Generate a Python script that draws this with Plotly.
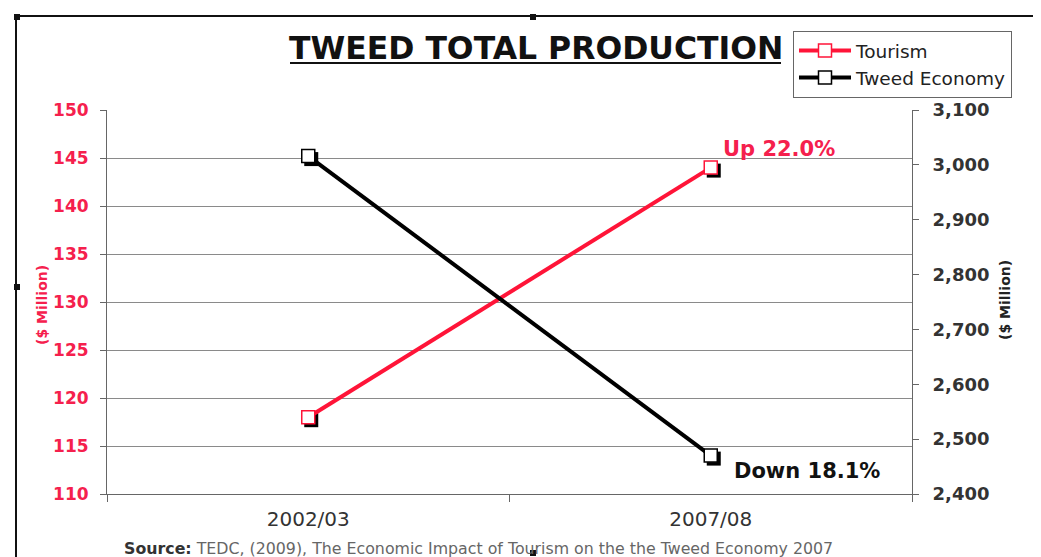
import plotly.graph_objects as go

categories = ["2002/03", "2007/08"]
tourism = [118, 144]
tweed_economy = [3016, 2470]
left_ticks = [110, 115, 120, 125, 130, 135, 140, 145, 150]
right_ticks = [2400, 2500, 2600, 2700, 2800, 2900, 3000, 3100]

RED = "#FF1438"
RED_TXT = "#F5204D"
FONT = "DejaVu Sans"

# page geometry (the page body has an 8px margin)
OFF = 8
PX0, PX1, PY0, PY1 = 107, 912, 110, 494
W, H = 1041 - OFF, 557 - OFF
PW, PH = PX1 - PX0, PY1 - PY0
L, T = PX0 - OFF, PY0 - OFF
R, B = W - (PX1 - OFF), H - (PY1 - OFF)

LR = [110, 150]
RR = [2400, 3100]
XR = [-0.5, 1.5]
SH = 3  # shadow offset in px
dx = SH * (XR[1] - XR[0]) / PW
dyl = SH * (LR[1] - LR[0]) / PH
dyr = SH * (RR[1] - RR[0]) / PH


def px(x):
    return (x - PX0) / PW


def py(y):
    return (PY1 - y) / PH


fig = go.Figure()
# marker shadows (drawn underneath, on slightly shifted hidden axes)
fig.add_trace(go.Scatter(
    x=categories, y=tourism, mode="markers", showlegend=False, hoverinfo="skip",
    marker=dict(symbol="square", size=14, color="black", line=dict(width=0)),
    xaxis="x", yaxis="y"))
fig.add_trace(go.Scatter(
    x=categories, y=tweed_economy, mode="markers", showlegend=False, hoverinfo="skip",
    marker=dict(symbol="square", size=14, color="black", line=dict(width=0)),
    xaxis="x", yaxis="y2"))
# visible series
fig.add_trace(go.Scatter(
    x=categories, y=tweed_economy, name="Tweed Economy", mode="lines+markers",
    line=dict(color="black", width=4),
    marker=dict(symbol="square", size=13, color="white", line=dict(color="black", width=1.5)),
    xaxis="x2", yaxis="y4"))
fig.add_trace(go.Scatter(
    x=categories, y=tourism, name="Tourism", mode="lines+markers",
    line=dict(color=RED, width=4),
    marker=dict(symbol="square", size=13, color="white", line=dict(color=RED, width=1.5)),
    xaxis="x2", yaxis="y3"))

up = (tourism[1] / tourism[0] - 1) * 100
down = (1 - tweed_economy[1] / tweed_economy[0]) * 100

annotations = [
    dict(text=f"Up {up:.1f}%", x=categories[1], y=tourism[1], xref="x2", yref="y3",
         xanchor="left", yanchor="middle", xshift=10, yshift=19, showarrow=False,
         font=dict(family=FONT, size=21, color=RED_TXT, weight="bold")),
    dict(text=f"Down {down:.1f}%", x=categories[1], y=tweed_economy[1], xref="x2", yref="y4",
         xanchor="left", yanchor="middle", xshift=21, yshift=-15, showarrow=False,
         font=dict(family=FONT, size=21, color="#111", weight="bold")),
    dict(text="<b>TWEED TOTAL PRODUCTION</b>", x=px(535.5), y=py(48), xref="paper", yref="paper",
         xanchor="center", yanchor="middle", showarrow=False,
         font=dict(family=FONT, size=31.5, color="#111")),
    dict(text="<b>($ Million)</b>", x=px(42), y=py(305), xref="paper", yref="paper",
         textangle=-90, xanchor="center", yanchor="middle", showarrow=False,
         font=dict(family=FONT, size=14, color=RED_TXT)),
    dict(text="<b>($ Million)</b>", x=px(1005), y=py(300), xref="paper", yref="paper",
         textangle=-90, xanchor="center", yanchor="middle", showarrow=False,
         font=dict(family=FONT, size=14, color="#222")),
    dict(text="<b><span style='color:#333'>Source:</span></b> TEDC, (2009), The Economic Impact of Tourism on the the Tweed Economy 2007",
         x=px(122), y=py(548), xref="paper", yref="paper",
         xanchor="left", yanchor="middle", showarrow=False,
         font=dict(family=FONT, size=15.8, color="#666")),
]

shapes = [
    # title underline
    dict(type="line", xref="paper", yref="paper", x0=px(290), x1=px(781), y0=py(63), y1=py(63),
         line=dict(color="#111", width=2)),
    # outer frame
    dict(type="rect", xref="paper", yref="paper", x0=px(16), x1=px(1060), y0=py(575), y1=py(16),
         line=dict(color="#111", width=2), layer="below"),
]
for cx, cy in [(17, 17), (533, 17), (17, 287), (533, 553)]:
    shapes.append(dict(type="rect", xref="paper", yref="paper",
                       x0=px(cx - 3), x1=px(cx + 3), y0=py(cy + 3), y1=py(cy - 3),
                       line=dict(width=0), fillcolor="#111"))

fig.update_layout(
    width=W, height=H,
    margin=dict(l=L, r=R, t=T, b=B, autoexpand=False),
    paper_bgcolor="white", plot_bgcolor="white",
    font=dict(family=FONT, color="#222"),
    showlegend=True,
    legend=dict(x=px(793), y=py(31), xanchor="left", yanchor="top",
                bordercolor="#666", borderwidth=1, bgcolor="white",
                font=dict(family=FONT, size=18.5, color="#222"),
                traceorder="reversed", tracegroupgap=0, itemwidth=52),
    # hidden, slightly shifted axes for marker shadows
    xaxis=dict(type="category", categoryarray=categories, range=[XR[0] - dx, XR[1] - dx],
               visible=False),
    yaxis=dict(range=[LR[0] + dyl, LR[1] + dyl], visible=False),
    yaxis2=dict(range=[RR[0] + dyr, RR[1] + dyr], overlaying="y", visible=False),
    # visible axes
    xaxis2=dict(type="category", categoryarray=categories, range=XR, overlaying="x",
                anchor="y3", side="bottom", tickson="boundaries",
                ticks="outside", ticklen=7, tickcolor="#666", showline=True, linecolor="#666",
                linewidth=1, showgrid=False, ticklabelstandoff=7,
                tickfont=dict(family=FONT, size=20, color="#333")),
    yaxis3=dict(range=LR, tickvals=left_ticks, overlaying="y", anchor="x2", side="left",
                ticks="outside", ticklen=6,
                tickcolor="#666", showline=True, linecolor="#666", linewidth=1,
                showgrid=True, gridcolor="#8a8a8a", gridwidth=1, zeroline=False,
                ticklabelstandoff=8,
                tickfont=dict(family=FONT, size=17, color=RED_TXT, weight="bold")),
    yaxis4=dict(range=RR, tickvals=right_ticks, tickformat=",", overlaying="y", anchor="x2",
                side="right", ticks="outside", ticklen=6, tickcolor="#666", showline=True,
                linecolor="#666", linewidth=1, showgrid=False, zeroline=False,
                ticklabelstandoff=10,
                tickfont=dict(family=FONT, size=18, color="#333", weight="bold")),
    annotations=annotations,
    shapes=shapes,
)

fig.write_html("out.html")
